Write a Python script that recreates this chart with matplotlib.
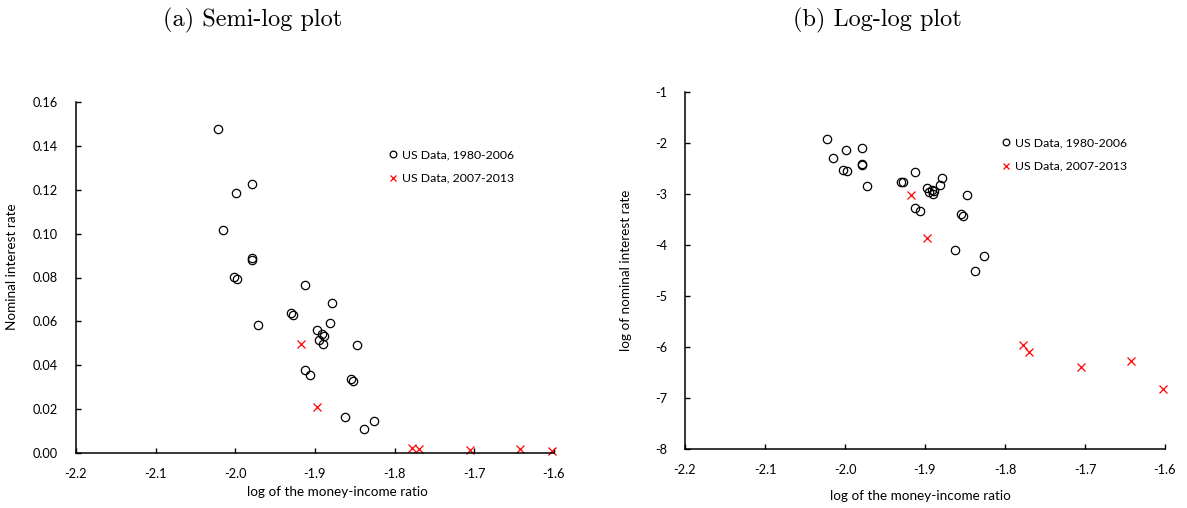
import matplotlib
matplotlib.use("Agg")
import matplotlib.pyplot as plt
from matplotlib.ticker import MultipleLocator, FormatStrFormatter

plt.rcParams['font.family'] = ['Lato', 'DejaVu Sans']
plt.rcParams['axes.unicode_minus'] = False

# US data 1980-2006 (circles)
x_8006 = [-2.022, -1.979, -1.999, -2.015, -1.979, -1.979, -2.002, -1.998, -1.913,
          -1.879, -1.930, -1.927, -1.972, -1.881, -1.898, -1.891, -1.889, -1.895,
          -1.890, -1.847, -1.912, -1.906, -1.855, -1.852, -1.862, -1.826, -1.838]
rate_8006 = [0.1475, 0.1228, 0.1186, 0.1015, 0.0889, 0.0878, 0.0801, 0.0792, 0.0767,
             0.0684, 0.0637, 0.0629, 0.0582, 0.0591, 0.0561, 0.0541, 0.0532, 0.0516,
             0.0498, 0.0491, 0.0378, 0.0357, 0.0339, 0.0327, 0.0165, 0.0146, 0.0108]
lograte_8006 = [-1.911, -2.093, -2.126, -2.289, -2.413, -2.432, -2.525, -2.538, -2.564,
                -2.682, -2.754, -2.766, -2.839, -2.825, -2.878, -2.917, -2.930, -2.956,
                -2.995, -3.015, -3.276, -3.323, -3.388, -3.421, -4.089, -4.212, -4.507]

# US data 2007-2013 (red crosses)
x_0713 = [-1.918, -1.898, -1.778, -1.770, -1.705, -1.643, -1.602]
rate_0713 = [0.0495, 0.0208, 0.0023, 0.0020, 0.0014, 0.0017, 0.0009]
lograte_0713 = [-3.009, -3.859, -5.965, -6.090, -6.396, -6.279, -6.828]

W, H = 1187, 508
fig = plt.figure(figsize=(W / 100, H / 100), dpi=100)

ax1 = fig.add_axes([76 / W, 1 - 453 / H, 478 / W, 351 / H])
ax2 = fig.add_axes([685 / W, 1 - 449 / H, 480 / W, 356.7 / H])


def style(ax):
    for s in ['top', 'right']:
        ax.spines[s].set_visible(False)
    for s in ['left', 'bottom']:
        ax.spines[s].set_linewidth(1.1)
    ax.tick_params(direction='in', length=3.5, width=1.0, labelsize=9.2,
                   colors='black')
    ax.tick_params(axis='x', pad=11)
    ax.tick_params(axis='y', pad=13)
    ax.set_xlim(-2.2, -1.6)
    ax.xaxis.set_major_locator(MultipleLocator(0.1))
    ax.xaxis.set_major_formatter(FormatStrFormatter('%.1f'))


def draw(ax, y1, y2, leg_xy):
    ax.plot(x_8006, y1, 'o', ms=6, mfc='none', mec='black', mew=0.9,
            label='US Data, 1980-2006', clip_on=False)
    ax.plot(x_0713, y2, 'x', ms=6, mec='red', mew=0.9,
            label='US Data, 2007-2013', clip_on=False)
    ax.legend(loc='upper left', bbox_to_anchor=(leg_xy[0] / W, 1 - leg_xy[1] / H),
              bbox_transform=fig.transFigure, frameon=False, fontsize=8.8,
              handlelength=0.7, handletextpad=0.35, labelspacing=1.05,
              borderpad=0, borderaxespad=0, markerscale=0.8)


style(ax1)
draw(ax1, rate_8006, rate_0713, (389, 149))
ax1.set_ylim(0, 0.16)
ax1.yaxis.set_major_locator(MultipleLocator(0.02))
ax1.yaxis.set_major_formatter(FormatStrFormatter('%.2f'))
ax1.set_xlabel('log of the money-income ratio', fontsize=9.7)
ax1.xaxis.set_label_coords((337 - 76) / 478, -(493 - 453) / 351 + 0.02)
ax1.set_ylabel('Nominal interest rate', fontsize=9.7)
ax1.yaxis.set_label_coords(-(76 - 18) / 478, 0.53)

style(ax2)
draw(ax2, lograte_8006, lograte_0713, (1002, 137))
ax2.set_ylim(-8, -1)
ax2.yaxis.set_major_locator(MultipleLocator(1))
ax2.yaxis.set_major_formatter(FormatStrFormatter('%d'))
ax2.set_xlabel('log of the money-income ratio', fontsize=9.7)
ax2.xaxis.set_label_coords(0.49, -(497 - 449) / 356.7 + 0.02)
ax2.set_ylabel('log of nominal interest rate', fontsize=9.7)
ax2.yaxis.set_label_coords(-(685 - 632) / 480, 0.5)

fig.text(253 / W, 1 - 20 / H, '(a) Semi-log plot', family='cmr10', fontsize=17.5,
         ha='center', va='center')
fig.text(877 / W, 1 - 20 / H, '(b) Log-log plot', family='cmr10', fontsize=17.5,
         ha='center', va='center')

fig.savefig('out.png', dpi=100)
